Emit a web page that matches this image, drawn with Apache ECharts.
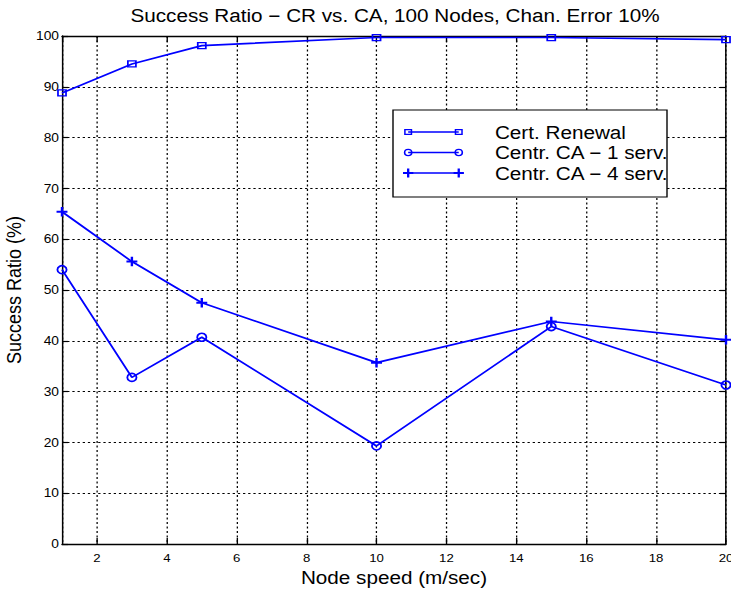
<!DOCTYPE html>
<html>
<head>
<meta charset="utf-8">
<script src="https://cdn.jsdelivr.net/npm/echarts@6/dist/echarts.min.js"></script>
<style>
  html, body { margin: 0; padding: 0; background: #fff; overflow: hidden; }
  /* The figure is laid out narrower and widened horizontally, like the printed plot with its wide lettering. */
  #chart { width: 636px; height: 590px; transform-origin: 0 0; }
</style>
</head>
<body>
<div id="chart"></div>
<script>
const titleText = 'Success Ratio − CR vs. CA, 100 Nodes, Chan. Error 10%';
const xAxisName = 'Node speed (m/sec)';
const yAxisName = 'Success Ratio (%)';

// Node speed (m/sec)
const speeds = [1, 3, 5, 10, 15, 20];
const seriesNames = ['Cert. Renewal', 'Centr. CA − 1 serv.', 'Centr. CA − 4 serv.'];
// Success ratio (%)
const certRenewal = [88.8, 94.5, 98.1, 99.7, 99.7, 99.3];
const centrCA1 = [54.0, 32.8, 40.7, 19.3, 42.8, 31.3];
const centrCA4 = [65.4, 55.6, 47.5, 35.7, 43.8, 40.2];

const xMin = 1, xMax = 20, xSplit = 10;
const yMin = 0, yMax = 100, yStep = 10;

const PAGE_W = 731;
const STRETCH = PAGE_W / 636;
const sx = v => v / STRETCH;

const el = document.getElementById('chart');
el.style.transform = 'scaleX(' + STRETCH + ')';

const FONT = '"Liberation Sans", Arial, Helvetica, sans-serif';
const BLUE = '#0000ff';

// legend icons: line with a marker at each end (box 75 x 10)
const BOX = 'M0 0Z M75 10Z ';
const LINE = 'M4.5 4.2H48.5V5.8H4.5Z ';
const iconSquare = 'path://' + BOX + LINE +
  'M1 2H8V8H1Z M2.3 3.3V6.7H6.7V3.3Z ' +
  'M45 2H52V8H45Z M46.3 3.3V6.7H50.7V3.3Z';
const iconCircle = 'path://' + BOX + LINE +
  'M0.7 5A3.8 3.8 0 1 1 8.3 5A3.8 3.8 0 1 1 0.7 5Z M2.1 5A2.4 2.4 0 1 0 6.9 5A2.4 2.4 0 1 0 2.1 5Z ' +
  'M44.7 5A3.8 3.8 0 1 1 52.3 5A3.8 3.8 0 1 1 44.7 5Z M46.1 5A2.4 2.4 0 1 0 50.9 5A2.4 2.4 0 1 0 46.1 5Z';
const iconPlus = 'path://' + BOX + LINE +
  'M3.5 0.5H5.5V4H9V6H5.5V9.5H3.5V6H0V4H3.5Z ' +
  'M47.5 0.5H49.5V4H53V6H49.5V9.5H47.5V6H44V4H47.5Z';
const plusSymbol = 'path://M3.9 0H6.1V3.9H10V6.1H6.1V10H3.9V6.1H0V3.9H3.9Z';

const pairs = ys => speeds.map((s, i) => [s, ys[i]]);

const gridLine = { show: true, lineStyle: { color: '#000', type: [2, 2.5], width: 1.1 } };
const boxLine = { show: true, onZero: false, lineStyle: { color: '#000', width: 1.3 } };
const tickStyle = { color: '#000', width: 1.2 };

const chart = echarts.init(el, null, { renderer: 'svg' });

const baseSeries = {
  type: 'line',
  clip: false,
  animation: false,
  lineStyle: { color: BLUE, width: 1.7 },
  emphasis: { disabled: true }
};

chart.setOption({
  animation: false,
  textStyle: { fontFamily: FONT },
  grid: { left: sx(62), right: sx(5), top: 36, bottom: 46, containLabel: false, outerBoundsMode: 'none' },
  graphic: [
    {
      type: 'rect', z: 3,
      shape: { x: sx(393), y: 110, width: sx(667 - 393), height: 87 },
      style: { fill: '#fff', stroke: '#000', lineWidth: 1.2 }
    },
    {
      type: 'text', z: 5, x: sx(395), y: 16,
      style: { text: titleText, fontSize: 18, fontFamily: FONT, fill: '#000', align: 'center', verticalAlign: 'middle' }
    }
  ],
  legend: {
    orient: 'vertical',
    left: sx(403), top: 123,
    padding: 0,
    itemWidth: 75, itemHeight: 10, itemGap: 2.5,
    z: 4,
    selectedMode: false,
    itemStyle: { color: BLUE, borderWidth: 0 },
    textStyle: { fontSize: 18, lineHeight: 18, color: '#000', fontFamily: FONT },
    data: [
      { name: seriesNames[0], icon: iconSquare },
      { name: seriesNames[1], icon: iconCircle },
      { name: seriesNames[2], icon: iconPlus }
    ]
  },
  xAxis: [
    {
      type: 'value', position: 'bottom', min: xMin, max: xMax, splitNumber: xSplit,
      name: xAxisName, nameLocation: 'middle', nameGap: 24,
      nameTextStyle: { fontSize: 18, lineHeight: 18, color: '#000', fontFamily: FONT },
      axisLine: boxLine,
      axisTick: { inside: true, length: 6, lineStyle: tickStyle },
      axisLabel: { showMinLabel: false, margin: 8, fontSize: 11.5, color: '#000', fontFamily: FONT },
      splitLine: gridLine
    },
    {
      type: 'value', position: 'top', min: xMin, max: xMax, splitNumber: xSplit,
      axisLine: boxLine,
      axisTick: { inside: true, length: 6, lineStyle: tickStyle },
      axisLabel: { show: false },
      splitLine: { show: false }
    }
  ],
  yAxis: [
    {
      type: 'value', position: 'left', min: yMin, max: yMax, interval: yStep,
      name: yAxisName, nameLocation: 'middle', nameGap: 27,
      nameTextStyle: { fontSize: 18, lineHeight: 18, color: '#000', fontFamily: FONT },
      axisLine: boxLine,
      axisTick: { inside: true, length: sx(6), lineStyle: tickStyle },
      axisLabel: { margin: sx(3), fontSize: 12, color: '#000', fontFamily: FONT },
      splitLine: gridLine
    },
    {
      type: 'value', position: 'right', min: yMin, max: yMax, interval: yStep,
      axisLine: boxLine,
      axisTick: { inside: true, length: sx(6), lineStyle: tickStyle },
      axisLabel: { show: false },
      splitLine: { show: false }
    }
  ],
  series: [
    Object.assign({}, baseSeries, {
      name: seriesNames[0], data: pairs(certRenewal),
      symbol: 'rect', symbolSize: [7, 6],
      itemStyle: { color: 'rgba(0,0,0,0)', borderColor: BLUE, borderWidth: 1.4 }
    }),
    Object.assign({}, baseSeries, {
      name: seriesNames[1], data: pairs(centrCA1),
      symbol: 'circle', symbolSize: 8,
      itemStyle: { color: 'rgba(0,0,0,0)', borderColor: BLUE, borderWidth: 1.6 }
    }),
    Object.assign({}, baseSeries, {
      name: seriesNames[2], data: pairs(centrCA4),
      symbol: plusSymbol, symbolSize: 9.5,
      itemStyle: { color: BLUE, borderWidth: 0 }
    })
  ]
});
</script>
</body>
</html>
